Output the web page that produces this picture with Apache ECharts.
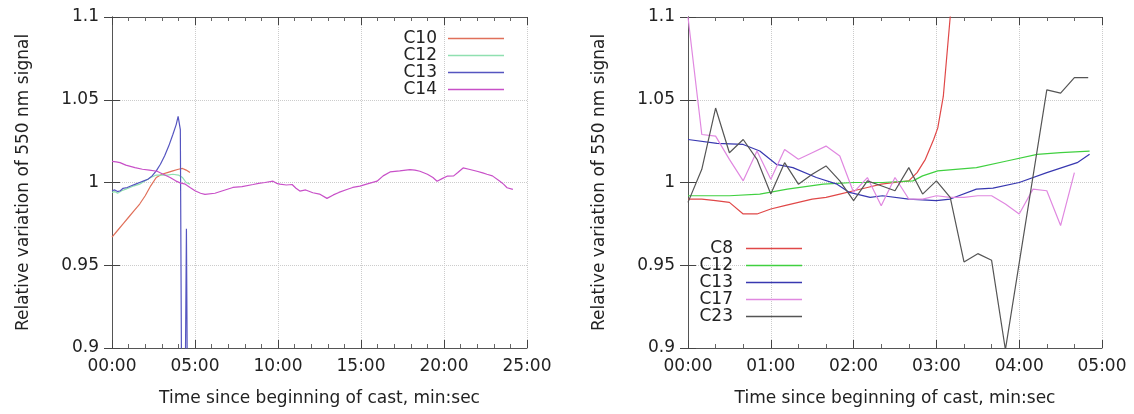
<!DOCTYPE html>
<html>
<head>
<meta charset="utf-8">
<script src="https://cdn.jsdelivr.net/npm/echarts@6/dist/echarts.min.js"></script>
<style>
  html, body { margin: 0; padding: 0; background: #fff; }
  #wrap { width: 1134px; height: 414px; display: flex; }
  .panel { width: 567px; height: 414px; }
</style>
</head>
<body>
<div id="wrap">
  <div id="left" class="panel"></div>
  <div id="right" class="panel"></div>
</div>
<script>
/* ── Data: [seconds since start of cast, relative 550 nm signal] ── */

// left panel (25 min cast)
const leftC10 = [[0,0.967],[20,0.971],[40,0.975],[60,0.979],[80,0.983],[100,0.987],[120,0.992],
  [140,0.998],[160,1.003],[180,1.005],[200,1.006],[220,1.007],[240,1.008],[255,1.0085],[268,1.0075],[282,1.006]];
const leftC12 = [[0,0.994],[10,0.9945],[20,0.9935],[35,0.995],[50,0.996],[65,0.997],[80,0.998],[100,0.999],
  [120,1.001],[140,1.003],[160,1.0045],[180,1.0045],[200,1.0045],[220,1.005],[240,1.0045],[255,1.003],[268,1.000],[282,0.999]];
const leftC13 = [[0,0.995],[10,0.9955],[20,0.9945],[30,0.995],[40,0.9965],[55,0.997],[70,0.998],[85,0.999],
  [100,1.0],[115,1.001],[130,1.002],[145,1.004],[160,1.007],[175,1.011],[190,1.016],[205,1.022],[220,1.029],
  [232,1.035],[239,1.040],[247,1.032],[252,0.86],[264,0.86],[269,0.972],[273,0.86]];
const leftC14 = [[0,1.0128],[15,1.0125],[29,1.012],[50,1.0105],[83,1.009],[110,1.008],[135,1.0075],[163,1.0068],
  [185,1.005],[210,1.003],[230,1.001],[246,0.9998],[265,0.999],[282,0.997],[300,0.995],[320,0.9935],[336,0.9928],
  [372,0.9935],[400,0.995],[437,0.997],[470,0.9975],[510,0.9988],[530,0.9995],[553,1.0],[582,1.0008],[595,0.9995],
  [607,0.999],[630,0.9985],[651,0.9988],[665,0.9965],[679,0.9948],[700,0.9955],[726,0.9938],[750,0.993],[777,0.9904],
  [800,0.9925],[820,0.994],[849,0.9958],[870,0.997],[896,0.9978],[920,0.999],[958,1.0008],[980,1.004],[1005,1.0064],
  [1040,1.007],[1077,1.0078],[1095,1.0075],[1113,1.0068],[1140,1.005],[1160,1.003],[1175,1.0008],[1195,1.0025],
  [1211,1.0038],[1235,1.004],[1250,1.006],[1269,1.0088],[1290,1.008],[1319,1.0068],[1340,1.0058],[1355,1.005],
  [1375,1.004],[1402,1.0008],[1415,0.999],[1428,0.9968],[1449,0.9958]];

// right panel (5 min cast)
const rightC8 = [[0,0.990],[10,0.990],[20,0.989],[30,0.988],[40,0.981],[50,0.981],[60,0.984],[70,0.986],
  [80,0.988],[90,0.990],[100,0.991],[110,0.993],[120,0.995],[130,0.997],[140,0.999],[150,1.0],[160,1.001],
  [166,1.006],[172,1.014],[178,1.026],[181,1.033],[185,1.052],[190,1.1],[195,1.15]];
const rightC12 = [[0,0.992],[30,0.992],[52,0.993],[72,0.996],[98,0.999],[120,1.0],[141,1.0],[163,1.001],
  [170,1.004],[181,1.007],[209,1.009],[231,1.013],[253,1.017],[270,1.018],[291,1.019]];
const rightC13 = [[0,1.026],[21,1.0236],[40,1.023],[52,1.019],[64,1.011],[76,1.009],[93,1.003],[108,0.999],
  [117,0.994],[132,0.991],[141,0.992],[160,0.990],[180,0.989],[190,0.990],[209,0.996],[221,0.9966],[240,1.0],
  [260,1.006],[282,1.012],[291,1.017]];
const rightC17 = [[0,1.1],[10,1.029],[20,1.028],[30,1.014],[40,1.001],[50,1.019],[60,1.002],[70,1.020],
  [80,1.014],[90,1.018],[100,1.022],[110,1.016],[120,0.994],[130,1.003],[140,0.986],[150,1.003],[160,0.990],
  [170,0.990],[180,0.992],[190,0.991],[200,0.991],[210,0.992],[220,0.992],[230,0.987],[240,0.981],[250,0.996],
  [260,0.995],[270,0.974],[280,1.006]];
const rightC23 = [[0,0.988],[10,1.008],[20,1.045],[30,1.018],[40,1.026],[50,1.014],[60,0.993],[70,1.012],
  [80,0.999],[90,1.005],[100,1.010],[110,1.001],[120,0.989],[130,1.001],[140,0.998],[150,0.995],[160,1.009],
  [170,0.993],[180,1.001],[190,0.991],[200,0.952],[210,0.957],[220,0.953],[230,0.899],[260,1.056],[270,1.054],
  [280,1.0634],[290,1.0634]];

const yTicks = { min: 0.9, max: 1.1, interval: 0.05 };
const FONT = 'DejaVu Sans';

function mmss(v) {
  const m = Math.floor(v / 60), s = Math.round(v % 60);
  return String(m).padStart(2, '0') + ':' + String(s).padStart(2, '0');
}

function buildPanel(el, cfg) {
  const chart = echarts.init(el, null, { renderer: 'canvas' });
  const frame = { show: true, lineStyle: { color: '#555', width: 1 } };
  const tick = { show: true, inside: true, length: 8, lineStyle: { color: '#444' } };
  const minor = { show: true, splitNumber: cfg.minorSplit, length: 4, lineStyle: { color: '#666' } };
  const grid = { show: true, lineStyle: { color: '#ccc', type: 'dotted' } };
  const xBase = { type: 'value', min: 0, max: cfg.xMax, interval: cfg.xStep, axisLine: frame, axisTick: tick };

  chart.setOption({
    animation: false,
    backgroundColor: '#fff',
    grid: { left: cfg.left, right: cfg.right, top: 17, bottom: 66 },
    legend: {
      orient: 'vertical',
      right: cfg.legendRight,
      top: cfg.legendTop,
      padding: 0,
      align: 'right',
      icon: 'path://M0,0 H56 V1.3 H0 Z',
      itemWidth: 56,
      itemHeight: cfg.legendStep,
      itemGap: 0,
      selectedMode: false,
      formatter: '{r|{name}}',
      textStyle: {
        fontFamily: FONT, fontSize: 17, color: '#222',
        rich: { r: { fontFamily: FONT, fontSize: 17, color: '#222', width: 36, align: 'right', padding: [0, cfg.legendPad, 0, 0] } }
      },
      data: cfg.series.map(s => s.name)
    },
    xAxis: [
      Object.assign({}, xBase, {
        position: 'bottom',
        name: 'Time since beginning of cast, min:sec',
        nameLocation: 'middle',
        nameGap: 42,
        nameTextStyle: { fontFamily: FONT, fontSize: 17, color: '#222' },
        axisLabel: { fontFamily: FONT, fontSize: 17, color: '#222', margin: 10, formatter: mmss },
        minorTick: minor,
        splitLine: grid
      }),
      Object.assign({}, xBase, {
        position: 'top',
        axisLabel: { show: false },
        minorTick: minor,
        splitLine: { show: false }
      })
    ],
    yAxis: [
      {
        type: 'value', min: yTicks.min, max: yTicks.max, interval: yTicks.interval,
        position: 'left',
        name: 'Relative variation of 550 nm signal',
        nameLocation: 'middle',
        nameGap: 80,
        nameTextStyle: { fontFamily: FONT, fontSize: 17, color: '#222' },
        axisLine: frame, axisTick: tick,
        axisLabel: { fontFamily: FONT, fontSize: 17, color: '#222', margin: 13 },
        splitLine: grid
      },
      {
        type: 'value', min: yTicks.min, max: yTicks.max, interval: yTicks.interval,
        position: 'right',
        axisLine: frame, axisTick: tick,
        axisLabel: { show: false },
        splitLine: { show: false }
      }
    ],
    series: cfg.series.map(s => ({
      name: s.name,
      type: 'line',
      data: s.data,
      symbol: 'none',
      clip: true,
      color: s.color,
      lineStyle: { color: s.color, width: 1.2 }
    }))
  });
  return chart;
}

buildPanel(document.getElementById('left'), {
  left: 112, right: 40, xMax: 1500, xStep: 300, minorSplit: 5,
  legendRight: 63, legendTop: 30, legendStep: 20.5, legendPad: 6,
  series: [
    { name: 'C10', data: leftC10, color: '#e0705a' },
    { name: 'C12', data: leftC12, color: '#8fe0b0' },
    { name: 'C13', data: leftC13, color: '#5555c0' },
    { name: 'C14', data: leftC14, color: '#c850c8' }
  ]
});

buildPanel(document.getElementById('right'), {
  left: 121, right: 32, xMax: 300, xStep: 60, minorSplit: 3,
  legendRight: 332, legendTop: 240, legendStep: 20.8, legendPad: 8,
  series: [
    { name: 'C8', data: rightC8, color: '#e04848' },
    { name: 'C12', data: rightC12, color: '#40d040' },
    { name: 'C13', data: rightC13, color: '#3838b0' },
    { name: 'C17', data: rightC17, color: '#e088e0' },
    { name: 'C23', data: rightC23, color: '#555555' }
  ]
});
</script>
</body>
</html>
